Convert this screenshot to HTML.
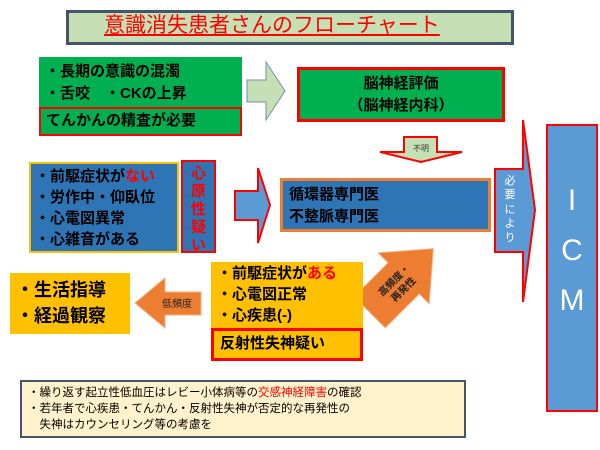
<!DOCTYPE html>
<html><head><meta charset="utf-8"><style>
*{margin:0;padding:0;box-sizing:border-box}
body{width:600px;height:450px;background:#fff;position:relative;overflow:hidden;font-family:"Liberation Sans","Noto Sans CJK JP",sans-serif;color:#000}
.b{position:absolute;font-weight:bold}
svg{position:absolute;left:0;top:0}
</style></head><body>
<svg width="600" height="450">
<polygon points="247,80 266,80 266,62 285,91 266,120 266,102 247,102" fill="#c5e0b4" stroke="#6f8fb0" stroke-width="1"/>
<polygon points="404,137 437,137 437,152 462,152 421,162 380,152 404,152" fill="#c5e0b4" stroke="#ff0000" stroke-width="2"/>
<text x="421" y="151" font-size="8" text-anchor="middle" fill="#333" font-family="Liberation Sans,Noto Sans CJK JP,sans-serif">不明</text>
<polygon points="235,191 258,191 258,168 270,205 258,243 258,220 235,220" fill="#5b9bd5" stroke="#ff0000" stroke-width="2"/>
<polygon points="495,169 523,169 523,120 535,210 523,302 523,252 495,252" fill="#5b9bd5" stroke="#ff0000" stroke-width="2"/>
<g font-size="11" fill="#fff" text-anchor="middle" font-family="Liberation Sans,Noto Sans CJK JP,sans-serif">
<text x="510" y="184">必</text><text x="510" y="198">要</text><text x="510" y="213">に</text><text x="510" y="227">よ</text><text x="510" y="241">り</text></g>
<g transform="translate(398,284) rotate(45)">
<polygon points="-22,40 -22,-8 -36,-8 0,-50 36,-8 22,-8 22,40" fill="#ed7d31" stroke="#f4b183" stroke-width="1"/>
</g>
<g transform="translate(398,284) rotate(-45)">
<text x="0" y="-2" font-size="10" font-weight="bold" text-anchor="middle" fill="#222" font-family="Liberation Sans,Noto Sans CJK JP,sans-serif">高頻度・</text>
<text x="0" y="11" font-size="10" font-weight="bold" text-anchor="middle" fill="#222" font-family="Liberation Sans,Noto Sans CJK JP,sans-serif">再発性</text>
</g>
<polygon points="201,292 165,292 165,278 135,303 165,328 165,315 201,315" fill="#ed7d31" stroke="#f4b183" stroke-width="1"/>
<text x="177" y="307" font-size="10" text-anchor="middle" fill="#222" font-family="Liberation Sans,Noto Sans CJK JP,sans-serif">低頻度</text>
</svg>

<div class="b" style="left:66px;top:10px;width:448px;height:35px;background:#c5e0b4;border:3px solid #44546a"></div>
<div class="b" style="left:104px;top:12px;font-size:21px;font-weight:normal;color:#ff0000;text-decoration:underline;white-space:nowrap;line-height:28px">意識消失患者さんのフローチャート</div>

<div class="b" style="left:39px;top:57px;width:203px;height:51px;background:#00b050;font-size:15px;line-height:22px;padding:4px 0 0 6px">・長期の意識の混濁<br>・舌咬　・CKの上昇</div>
<div class="b" style="left:39px;top:107px;width:203px;height:29px;background:#00b050;border:2px solid #ff0000;font-size:15px;line-height:24px;padding-left:5px">てんかんの精査が必要</div>

<div class="b" style="left:297px;top:67px;width:208px;height:55px;background:#00b050;border:3px solid #ff0000;font-size:15px;line-height:22px;text-align:center;padding-top:3px">脳神経評価<br>（脳神経内科）</div>

<div class="b" style="left:29px;top:162px;width:150px;height:91px;background:#2e75b6;border:2px solid #ffc000;font-size:15px;line-height:21px;padding:2px 0 0 4px">・前駆症状が<span style="color:#ff0000">ない</span><br>・労作中・仰臥位<br>・心電図異常<br>・心雑音がある</div>
<div class="b" style="left:181px;top:160px;width:35px;height:93px;background:#2e75b6;border:2px solid #ff0000;color:#ff0000;font-size:15px;line-height:18px;text-align:center;padding-top:3px">心<br>原<br>性<br>疑<br>い</div>

<div class="b" style="left:280px;top:178px;width:211px;height:54px;background:#2e75b6;border:3px solid #ed7d31;font-size:15px;line-height:22px;padding:3px 0 0 6px">循環器専門医<br>不整脈専門医</div>

<div class="b" style="left:546px;top:124px;width:52px;height:288px;background:#5b9bd5;border:2px solid #ff0000;color:#fff;font-size:30px;font-weight:normal;text-align:center;line-height:50px;padding-top:50px">I<br>C<br>M</div>

<div class="b" style="left:211px;top:262px;width:152px;height:67px;background:#ffc000;font-size:15px;line-height:21px;padding:1px 0 0 6px">・前駆症状が<span style="color:#ff0000">ある</span><br>・心電図正常<br>・心疾患(-)</div>
<div class="b" style="left:211px;top:328px;width:152px;height:33px;background:#ffc000;border:3px solid #ff0000;font-size:15px;line-height:26px;padding-left:6px">反射性失神疑い</div>

<div class="b" style="left:10px;top:273px;width:120px;height:61px;background:#ffc000;font-size:18px;line-height:26px;padding:4px 0 0 6px">・生活指導<br>・経過観察</div>

<div class="b" style="left:20px;top:380px;width:446px;height:58px;background:#fff2cc;border:2px solid #44546a;font-size:11.5px;font-weight:normal;line-height:16px;padding:3px 0 0 6px;white-space:nowrap">・繰り返す起立性低血圧はレビー小体病等の<span style="color:#ff0000">交感神経障害</span>の確認<br>・若年者で心疾患・てんかん・反射性失神が否定的な再発性の<br>　失神はカウンセリング等の考慮を</div>
</body></html>
